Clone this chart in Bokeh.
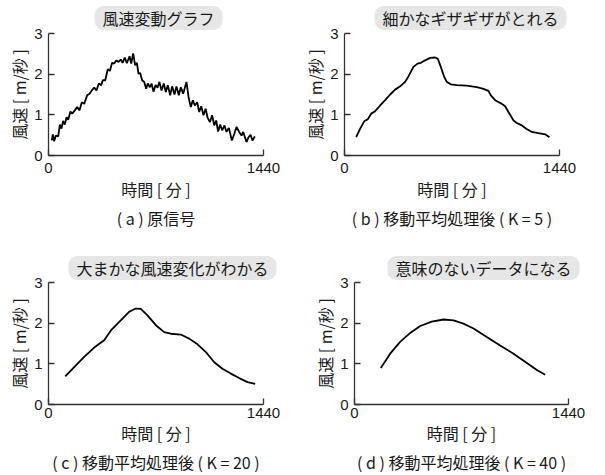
from bokeh.plotting import figure
from bokeh.models import Range1d, FixedTicker, Title
from bokeh.layouts import row, column
from bokeh.embed import file_html
from bokeh.resources import INLINE

# (a) raw signal
raw_t = [22, 29, 38, 49, 65, 76, 87, 98, 109, 121, 132, 147, 159, 176, 192, 208, 223, 239, 259, 275,
         290, 306, 321, 337, 353, 364, 380, 397, 411, 426, 440, 455, 469, 484, 496, 511, 525, 543, 554, 567,
         580, 592, 603, 614, 627, 641, 654, 665, 679, 690, 703, 717, 730, 743, 757, 772, 786, 799, 815, 828,
         844, 857, 873, 886, 902, 924, 938, 953, 967, 980, 996, 1009, 1023, 1038, 1052, 1065, 1081, 1096, 1110, 1123,
         1136, 1150, 1163, 1179, 1192, 1208, 1228, 1244, 1259, 1277, 1293, 1304, 1326, 1340, 1353, 1366, 1382]
raw_v = [0.37, 0.52, 0.35, 0.49, 0.47, 0.76, 0.66, 0.85, 0.76, 0.94, 0.88, 1.08, 1.03, 1.11, 1.19, 1.11, 1.31, 1.27, 1.48, 1.52,
         1.60, 1.67, 1.60, 1.77, 1.73, 1.85, 1.85, 2.12, 2.08, 2.28, 2.26, 2.34, 2.30, 2.36, 2.28, 2.41, 2.27, 2.44, 2.26, 2.51,
         2.22, 2.28, 2.01, 2.03, 1.85, 1.81, 1.64, 1.77, 1.68, 1.77, 1.57, 1.73, 1.67, 1.81, 1.60, 1.77, 1.56, 1.73, 1.48, 1.70,
         1.50, 1.70, 1.48, 1.68, 1.52, 1.81, 1.44, 1.19, 1.36, 1.23, 1.31, 1.07, 1.21, 0.99, 1.15, 0.94, 0.82, 0.99, 0.74, 0.86,
         0.59, 0.76, 0.62, 0.74, 0.58, 0.68, 0.37, 0.53, 0.70, 0.58, 0.49, 0.58, 0.33, 0.45, 0.51, 0.37, 0.47]

# (b) K = 5
k5_t = [78, 105, 132, 156, 179, 205, 239, 272, 306, 339, 373, 406, 429, 462, 489, 511, 540, 574, 607, 625,
        645, 668, 685, 712, 752, 819, 886, 931, 964, 980, 1009, 1054, 1076, 1098, 1132, 1154, 1188, 1217, 1255, 1299,
        1344, 1373]
k5_v = [0.45, 0.66, 0.84, 0.89, 1.03, 1.09, 1.23, 1.36, 1.50, 1.62, 1.70, 1.81, 1.95, 2.18, 2.26, 2.28, 2.34, 2.40, 2.41, 2.38,
        2.18, 1.93, 1.81, 1.75, 1.73, 1.72, 1.68, 1.64, 1.59, 1.48, 1.36, 1.27, 1.21, 1.07, 0.86, 0.80, 0.74, 0.66, 0.58, 0.55,
        0.52, 0.45]

# (c) K = 20
k20_t = [112, 172, 239, 306, 373, 418, 484, 540, 585, 618, 663, 719, 775, 819, 886, 942, 998, 1054, 1110, 1165,
         1221, 1277, 1333, 1384]
k20_v = [0.69, 0.92, 1.17, 1.40, 1.58, 1.82, 2.07, 2.28, 2.36, 2.35, 2.19, 1.95, 1.78, 1.74, 1.72, 1.62, 1.48, 1.29, 1.04, 0.88,
         0.76, 0.65, 0.55, 0.51]

# (d) K = 40
k40_t = [177, 240, 307, 375, 442, 520, 599, 666, 733, 801, 890, 980, 1070, 1160, 1227, 1283]
k40_v = [0.90, 1.25, 1.54, 1.76, 1.93, 2.04, 2.09, 2.07, 1.99, 1.87, 1.66, 1.45, 1.25, 1.02, 0.85, 0.73]

pills = ["風速変動グラフ", "細かなギザギザがとれる", "大まかな風速変化がわかる", "意味のないデータになる"]
captions = ["( a ) 原信号", "( b ) 移動平均処理後 ( K = 5 )",
            "( c ) 移動平均処理後 ( K = 20 )", "( d ) 移動平均処理後 ( K = 40 )"]
x_ticks = [0, 1440]
y_ticks = [0, 1, 2, 3]
x_label = "時間 [ 分 ]"
y_label = "風速 [ m/秒 ]"

JP = "Noto Sans CJK JP"
NUM = "Liberation Sans"
INK = "#1a1a1a"


def panel(t, v, pill, caption, width, height, bl, br, bt, bb, pill_off, pill_standoff,
          xtick_standoff, xlab_standoff, cap_standoff):
    p = figure(width=width, height=height, x_range=Range1d(0, 1440), y_range=Range1d(0, 3),
               output_backend="svg", toolbar_location=None,
               min_border_left=bl, min_border_right=br, min_border_top=bt, min_border_bottom=bb)
    p.outline_line_color = None
    p.xgrid.visible = False
    p.ygrid.visible = False
    p.background_fill_color = None
    p.border_fill_color = None

    p.line(t, v, line_color="black", line_width=1.8)

    for ax in (p.xaxis[0], p.yaxis[0]):
        ax.axis_line_color = "#333333"
        ax.axis_line_width = 1.3
        ax.major_tick_line_color = "#333333"
        ax.major_tick_line_width = 1.3
        ax.major_tick_in = 6
        ax.major_tick_out = 0
        ax.minor_tick_line_color = None
        ax.major_label_text_font = NUM
        ax.major_label_text_font_size = "15px"
        ax.major_label_text_color = INK
        ax.axis_label_text_font = JP
        ax.axis_label_text_font_size = "16px"
        ax.axis_label_text_font_style = "normal"
        ax.axis_label_text_color = INK

    p.xaxis.ticker = FixedTicker(ticks=x_ticks)
    p.yaxis.ticker = FixedTicker(ticks=y_ticks)
    p.xaxis.axis_label = x_label
    p.yaxis.axis_label = y_label
    p.xaxis.major_label_standoff = xtick_standoff
    p.xaxis.axis_label_standoff = xlab_standoff
    p.yaxis.major_label_standoff = 6
    p.yaxis.axis_label_standoff = 0

    p.title = Title(text=pill, align="left", offset=pill_off, text_font=JP, text_font_size="16px",
                    text_font_style="normal", text_color=INK, background_fill_color="#e6e6e6",
                    border_radius=9, padding=(8, 0), text_line_height=0.85, standoff=pill_standoff)
    p.add_layout(Title(text=caption, align="center", text_font=JP, text_font_size="16px",
                       text_font_style="normal", text_color=INK, standoff=cap_standoff), "below")
    return p


pa = panel(raw_t, raw_v, pills[0], captions[0], 296, 240, 48, 33, 33, 85, 46, 7, 7, 1, 0)
pb = panel(k5_t, k5_v, pills[1], captions[1], 309, 240, 48, 46, 33, 85, 30, 7, 7, 1, 0)
pc = panel(k20_t, k20_v, pills[2], captions[2], 306, 235, 48, 43, 42, 71, 20, 5, 3, 0, 0)
pd = panel(k40_t, k40_v, pills[3], captions[3], 299, 235, 48, 37, 42, 71, 33, 5, 3, 0, 0)

layout = column(row(pa, pb), row(pc, pd))
open("out.html", "w").write(file_html(layout, INLINE))
